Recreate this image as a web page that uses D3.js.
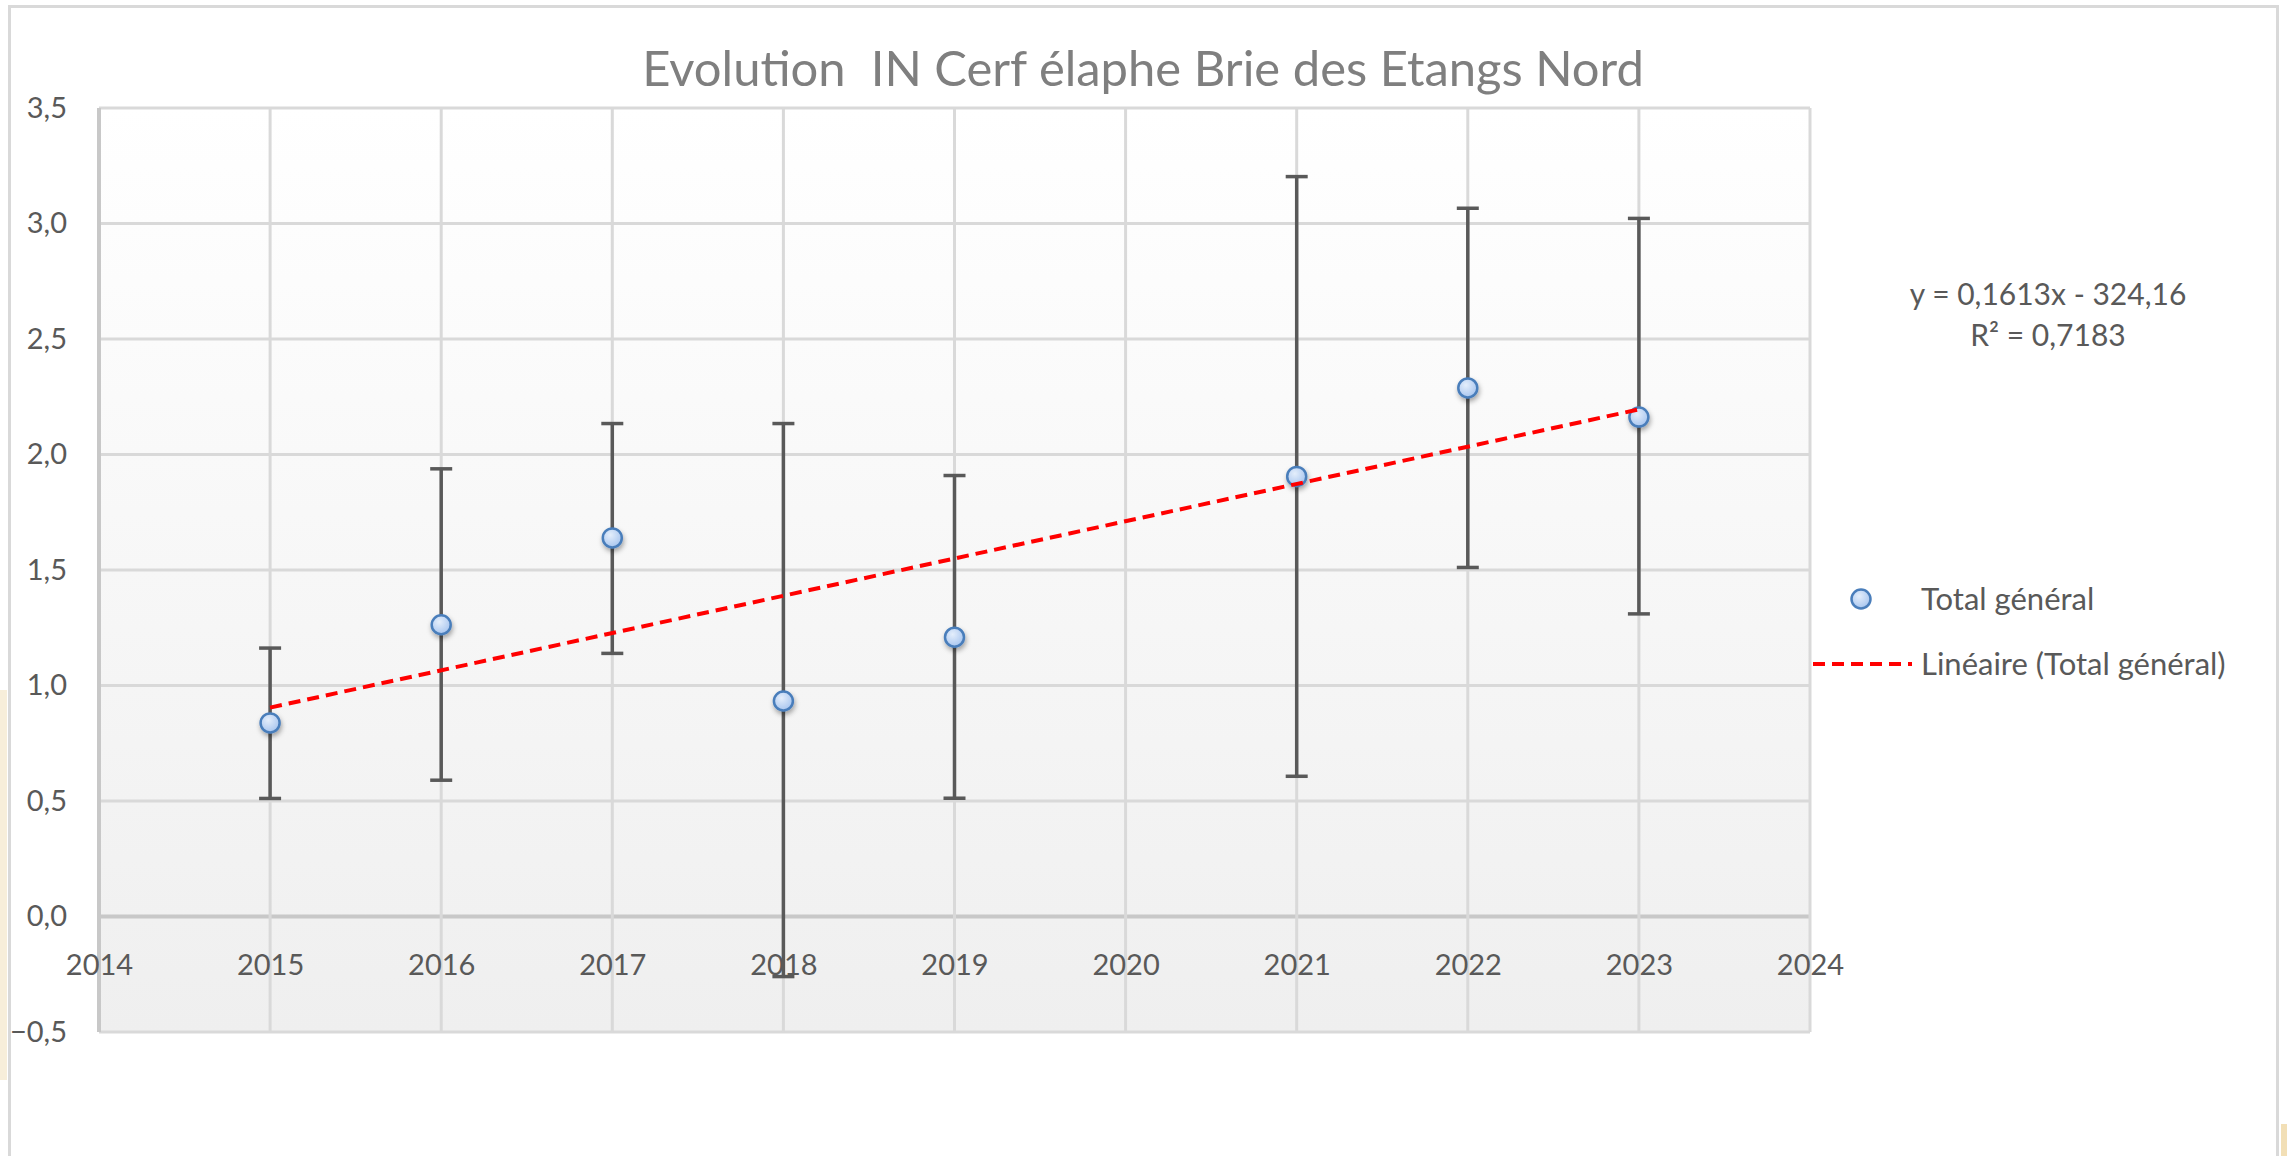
<!DOCTYPE html>
<html>
<head>
<meta charset="utf-8">
<script src="https://cdn.jsdelivr.net/npm/d3@7"></script>
<style>
  html, body { margin: 0; padding: 0; background: #ffffff; }
  svg { display: block; }
  text { font-family: Lato, "Open Sans", "Liberation Sans", sans-serif; }
</style>
</head>
<body>
<svg id="chart" width="2287" height="1156"></svg>
<script>
// ---------------- DATA ----------------
const years    = [2015, 2016, 2017, 2018, 2019, 2021, 2022, 2023];
const values   = [0.838, 1.263, 1.639, 0.933, 1.209, 1.905, 2.288, 2.162];
const errUpper = [1.162, 1.938, 2.134, 2.134, 1.909, 3.203, 3.066, 3.022];
const errLower = [0.511, 0.590, 1.139, -0.260, 0.512, 0.607, 1.511, 1.310];

const xTicks = [2014, 2015, 2016, 2017, 2018, 2019, 2020, 2021, 2022, 2023, 2024];
const yTicks = [-0.5, 0, 0.5, 1.0, 1.5, 2.0, 2.5, 3.0, 3.5];

const titleText = "Evolution  IN Cerf élaphe Brie des Etangs Nord";
const equationLines = ["y = 0,1613x - 324,16", "R² = 0,7183"];
const legendLabels = ["Total général", "Linéaire (Total général)"];

// ---------------- LAYOUT ----------------
const svg = d3.select("#chart");
const W = 2287, H = 1156;
const plot = { left: 99, right: 1810, top: 108, bottom: 1032 };

const x = d3.scaleLinear().domain([2014, 2024]).range([plot.left, plot.right]);
const y = d3.scaleLinear().domain([-0.5, 3.5]).range([plot.bottom, plot.top]);
const fmt = d => d3.format(".1f")(d).replace(".", ",");

const defs = svg.append("defs");
const bg = defs.append("linearGradient").attr("id", "plotBg")
  .attr("x1", 0).attr("y1", 0).attr("x2", 0).attr("y2", 1);
bg.append("stop").attr("offset", "0%").attr("stop-color", "#ffffff");
bg.append("stop").attr("offset", "100%").attr("stop-color", "#efefef");

const mk = defs.append("radialGradient").attr("id", "markerFill")
  .attr("cx", "40%").attr("cy", "35%").attr("r", "65%");
mk.append("stop").attr("offset", "0%").attr("stop-color", "#e4eefb");
mk.append("stop").attr("offset", "100%").attr("stop-color", "#a9c6ef");

const sh = defs.append("filter").attr("id", "shadow")
  .attr("x", "-50%").attr("y", "-50%").attr("width", "200%").attr("height", "200%");
sh.append("feDropShadow").attr("dx", 1).attr("dy", 3).attr("stdDeviation", 2.5)
  .attr("flood-color", "#000").attr("flood-opacity", 0.35);

// background decorations (beige image bits at edges)
svg.append("rect").attr("x", 0).attr("y", 690).attr("width", 7).attr("height", 390)
  .attr("fill", "#f2e2c2").attr("opacity", 0.6);
svg.append("rect").attr("x", 2281).attr("y", 1124).attr("width", 6).attr("height", 32)
  .attr("fill", "#f2dfb6");

// chart area border
svg.append("rect").attr("x", 9.5).attr("y", 6.5).attr("width", 2268).attr("height", 1170)
  .attr("fill", "#ffffff").attr("stroke", "#d9d9d9").attr("stroke-width", 3);

// plot area
svg.append("rect")
  .attr("x", plot.left).attr("y", plot.top)
  .attr("width", plot.right - plot.left).attr("height", plot.bottom - plot.top)
  .attr("fill", "url(#plotBg)");

// gridlines
svg.append("g").selectAll("line").data(yTicks).join("line")
  .attr("x1", plot.left).attr("x2", plot.right)
  .attr("y1", d => y(d)).attr("y2", d => y(d))
  .attr("stroke", d => d === 0 ? "#c8c8c8" : "#d9d9d9")
  .attr("stroke-width", d => d === 0 ? 4 : 3);
svg.append("g").selectAll("line").data(xTicks).join("line")
  .attr("x1", d => x(d)).attr("x2", d => x(d))
  .attr("y1", plot.top).attr("y2", plot.bottom)
  .attr("stroke", d => d === 2014 ? "#c8c8c8" : "#d9d9d9")
  .attr("stroke-width", d => d === 2014 ? 4 : 3);

// axes (labels only)
const yAxis = svg.append("g").attr("transform", `translate(${plot.left},0)`)
  .call(d3.axisLeft(y).tickValues(yTicks).tickFormat(fmt).tickSize(0).tickPadding(32));
yAxis.select(".domain").remove();
yAxis.selectAll("text").attr("fill", "#595959").style("font-size", "29px");

const xAxis = svg.append("g").attr("transform", `translate(0,${y(0)})`)
  .call(d3.axisBottom(x).tickValues(xTicks).tickFormat(d3.format("d")).tickSize(0));
xAxis.select(".domain").remove();
xAxis.selectAll("text").attr("fill", "#595959").style("font-size", "29px")
  .attr("y", 48).attr("dy", "0.35em");

// trend line (least squares from the data)
const n = years.length;
const mx = d3.mean(years), my = d3.mean(values);
let sxy = 0, sxx = 0;
for (let i = 0; i < n; i++) { sxy += (years[i] - mx) * (values[i] - my); sxx += (years[i] - mx) ** 2; }
const slope = sxy / sxx, intercept = my - slope * mx;
const xmin = d3.min(years), xmax = d3.max(years);

// error bars
const eb = svg.append("g").attr("stroke", "#595959").attr("stroke-width", 3.5);
years.forEach((yr, i) => {
  eb.append("line").attr("x1", x(yr)).attr("x2", x(yr))
    .attr("y1", y(errUpper[i])).attr("y2", y(errLower[i]));
  [errUpper[i], errLower[i]].forEach(v => {
    eb.append("line").attr("x1", x(yr) - 11).attr("x2", x(yr) + 11)
      .attr("y1", y(v)).attr("y2", y(v));
  });
});

// markers
svg.append("g").selectAll("circle").data(years).join("circle")
  .attr("cx", d => x(d)).attr("cy", (d, i) => y(values[i])).attr("r", 9.5)
  .attr("fill", "url(#markerFill)").attr("stroke", "#4a7ebb").attr("stroke-width", 2.5)
  .attr("filter", "url(#shadow)");

svg.append("line")
  .attr("x1", x(xmin)).attr("y1", y(slope * xmin + intercept))
  .attr("x2", x(xmax)).attr("y2", y(slope * xmax + intercept))
  .attr("stroke", "#ff0000").attr("stroke-width", 4).attr("stroke-dasharray", "12,7");

// title
const title = svg.append("text").attr("x", 1143).attr("y", 69).attr("dy", "0.35em")
  .attr("text-anchor", "middle").attr("fill", "#7f7f7f")
  .style("font-size", "40px").style("white-space", "pre").text(titleText);
const tw = title.node().getComputedTextLength();
title.style("font-size", (40 * 1002 / tw) + "px");

// equation
svg.append("g").selectAll("text").data(equationLines).join("text")
  .attr("x", 2048).attr("y", (d, i) => 294 + i * 41).attr("dy", "0.35em")
  .attr("text-anchor", "middle").attr("fill", "#595959").style("font-size", "30px")
  .text(d => d);

// legend
const lg = svg.append("g");
lg.append("circle").attr("cx", 1861).attr("cy", 599).attr("r", 9.5)
  .attr("fill", "url(#markerFill)").attr("stroke", "#4a7ebb").attr("stroke-width", 2.5);
lg.append("line").attr("x1", 1813).attr("x2", 1912).attr("y1", 664).attr("y2", 664)
  .attr("stroke", "#ff0000").attr("stroke-width", 4).attr("stroke-dasharray", "12,7");
lg.selectAll("text").data(legendLabels).join("text")
  .attr("x", 1921).attr("y", (d, i) => 599 + i * 65).attr("dy", "0.35em")
  .attr("fill", "#595959").style("font-size", "31px").text(d => d);
</script>
</body>
</html>
